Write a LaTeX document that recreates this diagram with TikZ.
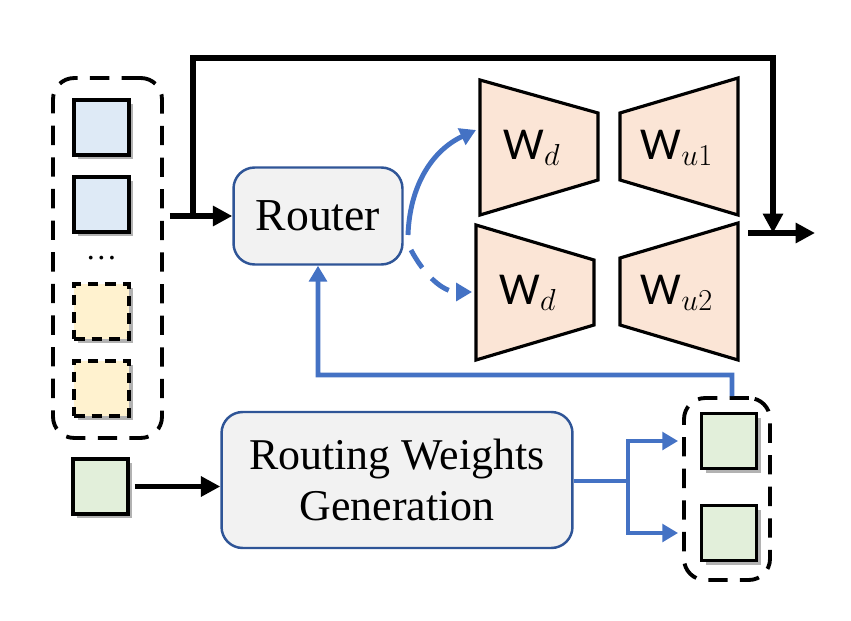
\documentclass[tikz,border=0pt]{standalone}
\usepackage{fontspec}
\setmainfont{Liberation Serif}
\newfontfamily\wfont{Carlito}
\usetikzlibrary{arrows.meta,shadows}

\definecolor{lineblue}{HTML}{4472C4}
\definecolor{boxblue}{HTML}{2F5597}
\definecolor{boxgray}{HTML}{F2F2F2}
\definecolor{sqblue}{HTML}{DEEAF6}
\definecolor{sqyellow}{HTML}{FFF2CF}
\definecolor{sqgreen}{HTML}{E2EFDA}
\definecolor{trapfill}{HTML}{FBE5D6}

\begin{document}
\begin{tikzpicture}[x=0.02cm, y=-0.02cm,
    group/.style={draw=black, line width=2.2pt, dash pattern=on 11pt off 7pt, rounded corners=12pt},
    token/.style={draw=black, line width=2pt, minimum width=1.1cm, minimum height=1.1cm, inner sep=0pt,
        drop shadow={shadow xshift=2.5pt, shadow yshift=-2.5pt, opacity=0.3, fill=black}},
    masked/.style={token, dash pattern=on 6pt off 4pt},
    block/.style={draw=boxblue, line width=1.4pt, fill=boxgray, rounded corners=12pt, align=center},
    trap/.style={draw=black, line width=1.8pt, fill=trapfill},
    wlabel/.style={font=\wfont\fontsize{26}{30}\selectfont},
    flow/.style={draw=black, line width=3pt, -{Triangle[length=11pt, width=11pt]}},
    route/.style={draw=lineblue, line width=2.8pt, -{Triangle[length=9pt, width=10pt]}}
]
\useasboundingbox (0,0) rectangle (851,621);

% input tokens
\node[group, minimum width=2.18cm, minimum height=7.2cm] (lbox) at (107.5,258) {};
\node[token, fill=sqblue] (t1) at (101.5,127.5) {};
\node[token, fill=sqblue] (t2) at (101.5,204.5) {};
\node[font=\fontsize{18}{20}\selectfont] (dots) at (101.5,258) {\dots};
\node[masked, fill=sqyellow] (t3) at (101.5,311.5) {};
\node[masked, fill=sqyellow] (t4) at (101.5,388.5) {};
\node[token, fill=sqgreen] (tin) at (100.5,486.5) {};

% router and generator
\node[block, minimum width=3.38cm, minimum height=1.94cm, font=\fontsize{26}{30}\selectfont] (router) at (318,216) {Router};
\node[block, minimum width=7.02cm, minimum height=2.72cm, font=\fontsize{25}{29.5}\selectfont] (rwg) at (397,480) {Routing Weights\\Generation};

% generated weights
\node[group, minimum width=1.72cm, minimum height=3.64cm] (rbox) at (727,489) {};
\node[token, fill=sqgreen] (g1) at (729,441) {};
\node[token, fill=sqgreen] (g2) at (729,533) {};

% experts
\draw[trap] (480,80) -- (598,113) -- (598,180) -- (480,215) -- cycle;
\draw[trap] (620,113) -- (738,78) -- (738,215) -- (620,180) -- cycle;
\draw[trap] (476,225) -- (594,260) -- (594,325) -- (476,360) -- cycle;
\draw[trap] (620,258) -- (738,223) -- (738,360) -- (620,325) -- cycle;
\node[wlabel] (wd1) at (532,148) {W$_{d}$};
\node[wlabel] (wu1) at (677,148) {W$_{u1}$};
\node[wlabel] (wd2) at (528,293) {W$_{d}$};
\node[wlabel] (wu2) at (677,293) {W$_{u2}$};

% main path
\coordinate (split) at (193,216);
\coordinate (top) at (773,58);
\coordinate (join) at (773,233);
\coordinate (outs) at (748,233);
\coordinate (oute) at (815,233);
\draw[flow] ([xshift=0.12cm]lbox.east |- router.west) -- (router.west);
\draw[flow] (split) |- (top) -- (join);
\draw[flow] (outs) -- (oute);
\draw[flow] ([xshift=0.1cm]tin.east) -- (rwg.west |- tin.east);

% routing
\coordinate (e1) at (476,130);
\coordinate (e2) at (472,292);
\draw[route] (408,235) to[out=88, in=205] (e1);
\draw[route, dash pattern=on 12pt off 8pt] (411,250) to[out=-62, in=180] (e2);
\coordinate (fb) at (732,375);
\draw[route] ([xshift=0.1cm]rbox.north) -- (fb) -| (router.south);
\coordinate (fork) at (628,481);
\draw[draw=lineblue, line width=2.8pt] (rwg.east |- fork) -- (fork);
\draw[route] (fork) |- ([xshift=-0.08cm]rbox.west |- g1);
\draw[route] (fork) |- ([xshift=-0.08cm]rbox.west |- g2);
\end{tikzpicture}
\end{document}
